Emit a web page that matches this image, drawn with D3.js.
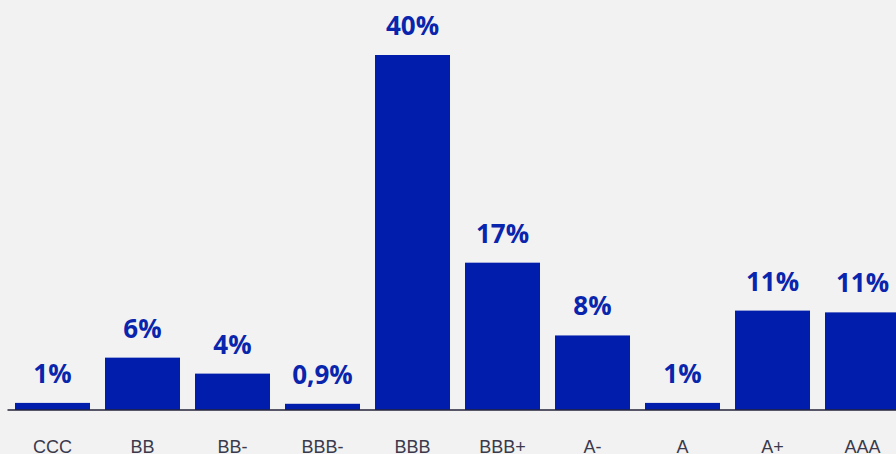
<!DOCTYPE html>
<html>
<head>
<meta charset="utf-8">
<script src="https://cdn.jsdelivr.net/npm/d3@7"></script>
<style>
  html, body { margin: 0; padding: 0; background: #f2f2f2; overflow: hidden; }
  svg { display: block; }
</style>
</head>
<body>
<svg id="chart" width="896" height="454"></svg>
<script>
const categories = ["CCC", "BB", "BB-", "BBB-", "BBB", "BBB+", "A-", "A", "A+", "AAA"];
const values = [0.8, 5.9, 4.1, 0.7, 40, 16.6, 8.4, 0.8, 11.2, 11.0];
const valueLabels = ["1%", "6%", "4%", "0,9%", "40%", "17%", "8%", "1%", "11%", "11%"];

const W = 896, H = 454;
const baseline = 410;
const svg = d3.select("#chart");
svg.append("rect").attr("width", W).attr("height", H).attr("fill", "#f2f2f2");

const x = d3.scaleBand()
  .domain(categories)
  .range([7.5, 907.5])
  .paddingInner(1 / 6)
  .paddingOuter(1 / 12);

const y = d3.scaleLinear().domain([0, 40]).range([baseline, 55]);

const data = categories.map((c, i) => ({ c, v: values[i], l: valueLabels[i] }));

svg.append("g").selectAll("rect")
  .data(data).join("rect")
  .attr("x", d => x(d.c))
  .attr("width", x.bandwidth())
  .attr("y", d => y(d.v))
  .attr("height", d => baseline - y(d.v))
  .attr("fill", "#001eab");

svg.append("g").selectAll("text")
  .data(data).join("text")
  .attr("x", d => x(d.c) + x.bandwidth() / 2)
  .attr("y", d => y(d.v) - 20)
  .attr("text-anchor", "middle")
  .attr("font-family", "'Open Sans', sans-serif")
  .attr("font-weight", 700)
  .attr("font-size", 26)
  .attr("fill", "#0a25ad")
  .text(d => d.l);

const axis = d3.axisBottom(x).tickSize(0).tickPadding(0);
const g = svg.append("g").attr("transform", `translate(0,${baseline})`).call(axis);
g.select(".domain").remove();
g.append("line").attr("x1", 7.5).attr("x2", W).attr("y1", 0).attr("y2", 0)
  .attr("stroke", "#23233a").attr("stroke-width", 1.6);
g.selectAll(".tick text")
  .attr("dy", 0)
  .attr("y", 43)
  .attr("font-family", "'Liberation Sans', Arial, sans-serif")
  .attr("font-size", 18)
  .attr("fill", "#3a3a4c");
</script>
</body>
</html>
